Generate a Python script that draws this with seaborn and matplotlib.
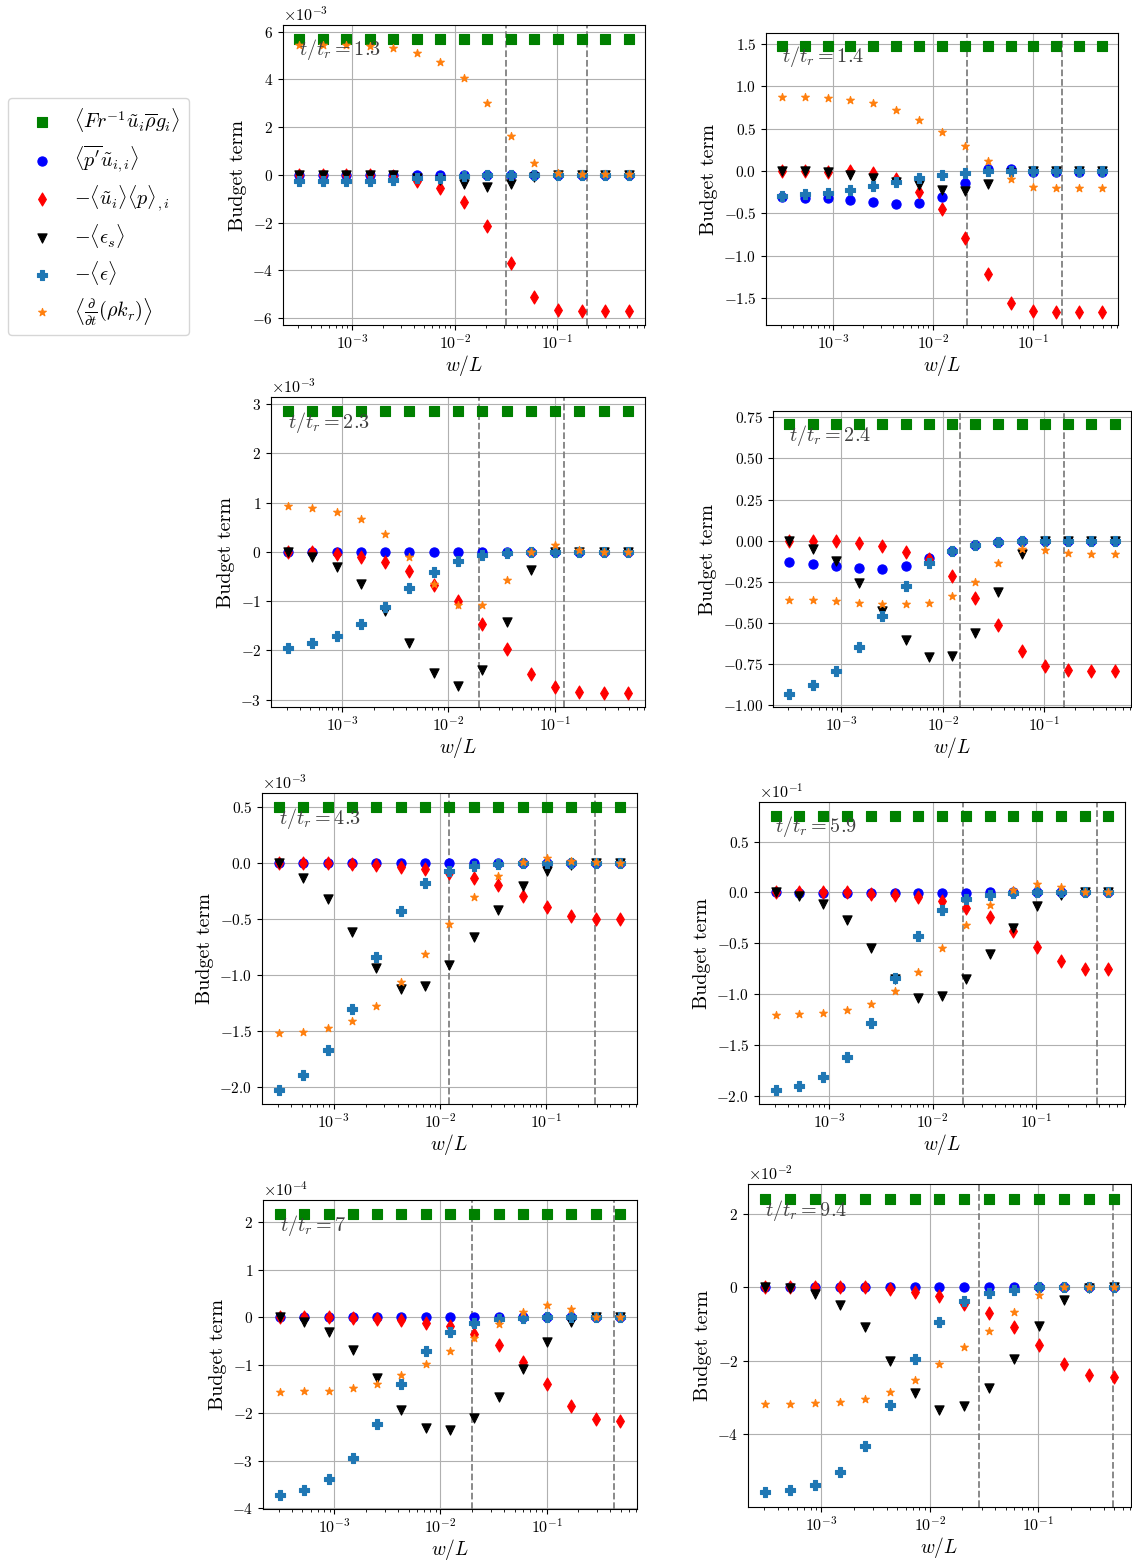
import numpy as np
import pandas as pd
import matplotlib
matplotlib.use("Agg")
import matplotlib.pyplot as plt
from matplotlib.ticker import MultipleLocator
import seaborn as sns

plt.rcParams.update({
    "font.family": "serif",
    "font.serif": ["cmr10"],
    "mathtext.fontset": "cm",
    "axes.formatter.use_mathtext": True,
    "axes.unicode_minus": True,
})

# filter width (normalised)
w_over_L = [3.07e-4, 5.2e-4, 8.8e-4, 1.49e-3, 2.53e-3, 4.29e-3, 7.26e-3,
            1.23e-2, 2.08e-2, 3.53e-2, 5.98e-2, 0.101, 0.172, 0.291, 0.493]

times = ["1.3", "1.4", "2.3", "2.4", "4.3", "5.9", "7", "9.4"]
scale = [1e-3, 1.0, 1e-3, 1.0, 1e-3, 1e-1, 1e-4, 1e-2]
ytick_step = [2, 0.5, 1, 0.25, 0.5, 0.5, 1, 2]

# vertical reference scales (w/L) per snapshot
ref_scales = [(0.0318, 0.193), (0.0219, 0.195), (0.0194, 0.1235), (0.0146, 0.155),
              (0.0121, 0.286), (0.0198, 0.385), (0.0197, 0.430), (0.0282, 0.49)]

# buoyancy production (constant across filter widths)
buoy = [5.71, 1.472, 2.855, 0.707, 0.503, 0.756, 2.167, 2.404]

dkdt = [
    [5.43, 5.43, 5.43, 5.40, 5.30, 5.12, 4.74, 4.08, 3.02, 1.65, 0.50, 0.08, 0.03, 0.03, 0.03],
    [0.876, 0.872, 0.86, 0.84, 0.797, 0.722, 0.605, 0.455, 0.298, 0.114, -0.098, -0.185, -0.196, -0.196, -0.196],
    [0.92, 0.88, 0.805, 0.663, 0.365, -0.095, -0.65, -1.08, -1.08, -0.568, 0.0, 0.13, 0.034, 0.0, 0.0],
    [-0.36, -0.364, -0.37, -0.378, -0.388, -0.388, -0.378, -0.337, -0.255, -0.135, -0.053, -0.057, -0.075, -0.081, -0.081],
    [-1.52, -1.51, -1.48, -1.415, -1.28, -1.067, -0.81, -0.543, -0.304, -0.116, 0.012, 0.045, 0.024, 0.012, 0.006],
    [-1.208, -1.201, -1.188, -1.162, -1.1, -0.975, -0.782, -0.547, -0.324, -0.128, 0.02, 0.079, 0.052, 0.007, 0.0],
    [-1.554, -1.54, -1.533, -1.484, -1.394, -1.213, -0.983, -0.704, -0.425, -0.132, 0.118, 0.258, 0.181, 0.014, 0.014],
    [-3.184, -3.175, -3.166, -3.13, -3.039, -2.848, -2.54, -2.104, -1.633, -1.188, -0.68, -0.218, 0.0, 0.0, 0.0],
]

pdil = [
    [0.0, 0.0, 0.0, 0.0, -0.01, -0.01, -0.01, -0.01, -0.01, -0.01, 0.0, 0.0, 0.0, 0.0, 0.0],
    [-0.306, -0.314, -0.322, -0.338, -0.361, -0.385, -0.381, -0.302, -0.137, 0.02, 0.02, -0.008, -0.008, -0.008, -0.008],
    [0.0] * 15,
    [-0.133, -0.141, -0.154, -0.166, -0.172, -0.154, -0.107, -0.061, -0.026, -0.01, -0.004, 0.0, 0.0, 0.0, 0.0],
    [0.0] * 15,
    [0.0, -0.007, -0.007, -0.007, -0.007, -0.007, -0.007, -0.007, -0.007, 0.0, 0.0, 0.0, 0.0, 0.0, 0.0],
    [0.0] * 15,
    [0.0] * 15,
]

pwork = [
    [0.0, 0.0, 0.0, 0.0, -0.05, -0.27, -0.57, -1.13, -2.15, -3.69, -5.13, -5.68, -5.72, -5.72, -5.72],
    [0.0, -0.004, -0.01, 0.0, -0.027, -0.09, -0.243, -0.444, -0.785, -1.221, -1.555, -1.653, -1.661, -1.661, -1.661],
    [0.0, 0.0, -0.04, -0.095, -0.2, -0.386, -0.67, -0.995, -1.455, -1.976, -2.476, -2.74, -2.835, -2.862, -2.862],
    [-0.004, 0.0, -0.004, -0.014, -0.032, -0.067, -0.115, -0.216, -0.35, -0.515, -0.675, -0.762, -0.786, -0.792, -0.792],
    [0.0, 0.0, 0.0, -0.006, -0.015, -0.033, -0.05, -0.09, -0.128, -0.197, -0.293, -0.395, -0.47, -0.503, -0.503],
    [0.0, 0.0, 0.0, 0.0, -0.01, -0.02, -0.049, -0.085, -0.15, -0.239, -0.376, -0.54, -0.678, -0.75, -0.753],
    [0.0, 0.0, 0.0, -0.01, -0.03, -0.056, -0.11, -0.19, -0.34, -0.585, -0.927, -1.387, -1.861, -2.139, -2.167],
    [0.0, 0.0, 0.0, 0.0, 0.0, -0.06, -0.136, -0.254, -0.454, -0.707, -1.088, -1.578, -2.086, -2.404, -2.44],
]

eps_s = [
    [0.0, 0.0, 0.0, 0.0, 0.0, -0.12, -0.22, -0.40, -0.50, -0.37, -0.08, 0.0, 0.0, 0.0, 0.0],
    [0.0, -0.005, -0.015, -0.045, -0.08, -0.125, -0.17, -0.22, -0.24, -0.15, -0.025, 0.0, 0.0, 0.0, 0.0],
    [0.0, -0.11, -0.30, -0.66, -1.20, -1.84, -2.46, -2.72, -2.40, -1.42, -0.37, 0.0, 0.0, 0.0, 0.0],
    [0.0, -0.05, -0.127, -0.26, -0.43, -0.605, -0.71, -0.705, -0.56, -0.31, -0.08, 0.0, 0.0, 0.0, 0.0],
    [0.0, -0.13, -0.32, -0.62, -0.94, -1.13, -1.10, -0.91, -0.66, -0.415, -0.2, -0.065, -0.015, 0.0, 0.0],
    [0.0, -0.035, -0.11, -0.275, -0.545, -0.85, -1.04, -1.02, -0.855, -0.61, -0.35, -0.135, -0.025, 0.0, 0.0],
    [0.0, -0.1, -0.3, -0.69, -1.275, -1.93, -2.327, -2.362, -2.098, -1.658, -1.087, -0.509, -0.105, 0.0, 0.0],
    [0.0, -0.03, -0.19, -0.49, -1.09, -2.0, -2.885, -3.34, -3.25, -2.76, -1.96, -1.05, -0.34, -0.03, 0.0],
]

eps = [
    [-0.27, -0.27, -0.27, -0.27, -0.20, -0.13, -0.12, -0.03, -0.02, 0.0, 0.0, 0.0, 0.0, 0.0, 0.0],
    [-0.294, -0.275, -0.255, -0.224, -0.177, -0.126, -0.079, -0.043, -0.02, 0.0, 0.0, 0.0, 0.0, 0.0, 0.0],
    [-1.942, -1.854, -1.705, -1.455, -1.11, -0.724, -0.406, -0.196, -0.074, -0.014, 0.0, 0.0, 0.0, 0.0, 0.0],
    [-0.931, -0.877, -0.792, -0.646, -0.457, -0.275, -0.139, -0.063, -0.026, -0.008, -0.004, 0.0, 0.0, 0.0, 0.0],
    [-2.03, -1.895, -1.673, -1.305, -0.838, -0.428, -0.18, -0.066, -0.027, -0.006, 0.0, 0.0, 0.0, 0.0, 0.0],
    [-1.948, -1.902, -1.813, -1.624, -1.283, -0.838, -0.429, -0.177, -0.062, -0.026, -0.007, 0.0, 0.0, 0.0, 0.0],
    [-3.721, -3.61, -3.387, -2.955, -2.237, -1.401, -0.704, -0.3, -0.118, -0.042, -0.014, 0.0, 0.0, 0.0, 0.0],
    [-5.587, -5.515, -5.379, -5.034, -4.336, -3.22, -1.95, -0.952, -0.39, -0.163, -0.073, 0.0, 0.0, 0.0, 0.0],
]

term_labels = [
    r"$\langle Fr^{-1}\tilde{u}_i\overline{\rho}g_i\rangle$",
    r"$\langle\overline{p'}\tilde{u}_{i,i}\rangle$",
    r"$-\langle\tilde{u}_i\rangle\langle p\rangle_{,i}$",
    r"$-\langle\epsilon_s\rangle$",
    r"$-\langle\epsilon\rangle$",
    r"$\left\langle\frac{\partial}{\partial t}(\rho k_r)\right\rangle$",
]
term_markers = ["s", "o", "d", "v", "P", "*"]
term_colors = ["green", "blue", "red", "black", "tab:blue", "tab:orange"]
term_sizes = [44, 44, 44, 44, 44, 34]

W, H = 1132, 1563
# axes boxes in pixels: left, right, top, bottom
boxes = [
    (283, 645, 25, 325), (766, 1118, 33, 325),
    (271, 645, 397, 707), (773, 1131, 411, 707),
    (262, 637, 793, 1104), (759, 1125, 802, 1104),
    (263, 637, 1200, 1509), (748, 1131, 1184, 1507),
]

fig = plt.figure(figsize=(W / 100, H / 100), dpi=100)

handles = None
for k in range(8):
    l, r, t, b = boxes[k]
    ax = fig.add_axes([l / W, 1 - b / H, (r - l) / W, (b - t) / H])
    ax.set_xscale("log")
    ax.set_axisbelow(True)
    ax.grid(True, which="major", color="#b0b0b0", linewidth=0.8)

    series = [np.full(len(w_over_L), buoy[k]), pdil[k], pwork[k], eps_s[k], eps[k], dkdt[k]]
    df = pd.DataFrame({"w": w_over_L})
    for j, vals in enumerate(series):
        df["v"] = np.asarray(vals) * scale[k]
        sns.scatterplot(data=df, x="w", y="v", ax=ax, marker=term_markers[j],
                        color=term_colors[j], edgecolor=term_colors[j],
                        linewidth=0.8, s=term_sizes[j], legend=False,
                        label=term_labels[j], zorder=3)

    for xv in ref_scales[k]:
        ax.axvline(xv, color="gray", linestyle="--", linewidth=1.3, zorder=2)

    ax.yaxis.set_major_locator(MultipleLocator(ytick_step[k] * scale[k]))
    ax.ticklabel_format(axis="y", style="sci", scilimits=(0, 0))
    ax.tick_params(axis="y", labelsize=11)
    ax.tick_params(axis="x", labelsize=11.5, pad=2.5)
    ax.yaxis.get_offset_text().set_fontsize(11.5)
    ax.set_xlabel(r"$w/L$", fontsize=14, labelpad=1)
    ax.set_ylabel("Budget term", fontsize=14.5)
    ax.text(0.045, 0.9, r"$t/t_r = %s$" % times[k], transform=ax.transAxes,
            fontsize=14.5, color="0.25", va="baseline", zorder=5)
    if k == 0:
        handles, labels = ax.get_legend_handles_labels()

fig.legend(handles, labels, loc="upper left",
           bbox_to_anchor=(8 / W, 1 - 98 / H), borderaxespad=0,
           fontsize=14.5, borderpad=0.4, handlelength=2.6, handletextpad=0.3,
           labelspacing=0.45)

fig.savefig("out.png", dpi=100)
